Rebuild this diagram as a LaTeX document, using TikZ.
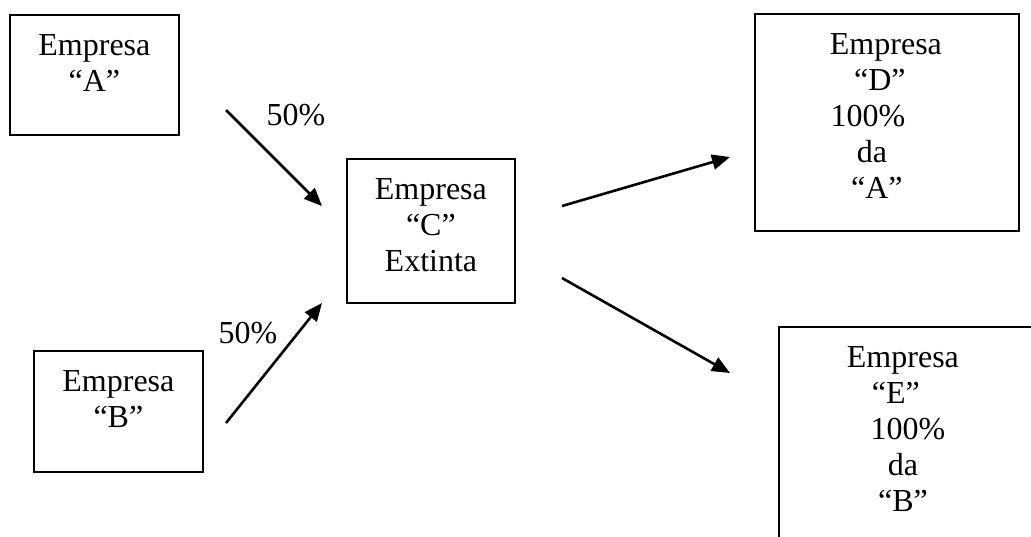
\documentclass[tikz,border=0pt]{standalone}
\usepackage{fontspec}
\setmainfont{Liberation Serif}
\usetikzlibrary{arrows.meta}

\tikzset{
  firma/.style={draw, line width=0.9pt, inner sep=0pt, anchor=north west},
  rotulo/.style={align=center, inner sep=0pt, anchor=north, font=\fontsize{16pt}{18pt}\selectfont},
  pct/.style={inner sep=0pt, font=\fontsize{16pt}{18pt}\selectfont},
  seta/.style={-{Triangle[length=9pt,width=7.5pt]}, line width=1.3pt},
}

\begin{document}
\begin{tikzpicture}[x=0.5pt, y=-0.5pt]
    % Page frame
    \clip (0,0) rectangle (1031,536);

    % Boxes
    \node[firma, minimum width=84.5pt, minimum height=60pt] (a) at (9,14) {};
    \node[firma, minimum width=84.5pt, minimum height=60.5pt] (b) at (33,350) {};
    \node[firma, minimum width=84pt, minimum height=72pt] (c) at (346,158) {};
    \node[firma, minimum width=132pt, minimum height=108.5pt] (d) at (754,13) {};
    \node[firma, minimum width=130pt, minimum height=110pt] (e) at (778,326) {};

    % Texts inside the boxes
    \node[rotulo] (a-txt) at ([yshift=-10pt]a.north) {Empresa\\“A”};
    \node[rotulo] (b-txt) at ([yshift=-10pt]b.north) {Empresa\\“B”};
    \node[rotulo] (c-txt) at ([yshift=-10pt]c.north) {Empresa\\“C”\\Extinta};
    \node[rotulo] (d-txt) at ([xshift=-0.5pt,yshift=-10pt]d.north) {Empresa\\\mbox{“D”\hspace{6pt}}\\\mbox{100\%\hspace{18pt}}\\\mbox{da\hspace{14pt}}\\\mbox{“A”\hspace{9pt}}};
    \node[rotulo] (e-txt) at ([xshift=-3pt,yshift=-10pt]e.north) {Empresa\\\mbox{“E”\hspace{7pt}}\\\mbox{\hspace{5pt}100\%}\\da\\“B”};

    % Percentages
    \node[pct] (pa) at (296,115) {50\%};
    \node[pct] (pb) at (248,333) {50\%};

    % Arrow ends
    \coordinate (a-out) at (226,110);
    \coordinate (c-in1) at (322,206);
    \coordinate (b-out) at (226,423);
    \coordinate (c-in2) at (322,303);
    \coordinate (c-out1) at (562,206);
    \coordinate (d-in) at (730,157);
    \coordinate (c-out2) at (562,278);
    \coordinate (e-in) at (730,373);

    % Arrows
    \draw[seta] (a-out) -- (c-in1);
    \draw[seta] (b-out) -- (c-in2);
    \draw[seta] (c-out1) -- (d-in);
    \draw[seta] (c-out2) -- (e-in);
\end{tikzpicture}
\end{document}
